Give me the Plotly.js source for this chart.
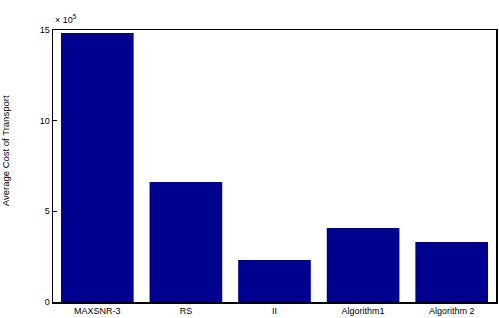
<!DOCTYPE html>
<html>
<head>
<meta charset="utf-8">
<script src="https://cdn.plot.ly/plotly-3.0.1.min.js"></script>
<style>html,body{margin:0;padding:0;background:#fff;}#chart{width:499px;height:318px;}</style>
</head>
<body>
<div id="chart"></div>
<script>
var categories = ["MAXSNR-3", "RS", "II", "Algorithm1", "Algorithm 2"];
var values = [14.83, 6.62, 2.32, 4.08, 3.31];
var yTicks = [0, 5, 10, 15];
var yTickLabels = ["0", "5", "10", "15"];
var yTitle = "Average Cost of Transport";

var trace = {
  type: "bar",
  x: categories,
  y: values,
  width: 0.82,
  marker: {color: "rgb(0,0,143)", line: {width: 0}},
  hoverinfo: "none"
};

var layout = {
  width: 499, height: 318,
  margin: {l: 53, r: 3, t: 30, b: 16, pad: 0},
  paper_bgcolor: "#fff", plot_bgcolor: "#fff",
  font: {family: "Liberation Sans, Arial, sans-serif", size: 9, color: "#000"},
  showlegend: false,
  xaxis: {
    type: "category", range: [-0.5, 4.5],
    showline: true, linecolor: "#000", linewidth: 1.5, mirror: true,
    ticks: "", showgrid: false, zeroline: false,
    tickfont: {size: 9}
  },
  yaxis: {
    range: [0, 15], tickvals: yTicks, ticktext: yTickLabels,
    showline: true, linecolor: "#000", linewidth: 1.5, mirror: true,
    ticks: "inside", ticklen: 4, tickcolor: "#000",
    showgrid: false, zeroline: false,
    tickfont: {size: 9}
  },
  annotations: [{
    xref: "paper", yref: "paper", x: 0, y: 1.0, xanchor: "left", yanchor: "bottom",
    yshift: 3, text: "× 10<sup>5</sup>", showarrow: false, font: {size: 9}
  }, {
    xref: "paper", yref: "paper", x: -0.108, y: 0.555, xanchor: "center", yanchor: "middle",
    textangle: -90, text: yTitle, showarrow: false, font: {size: 9.5}
  }]
};

Plotly.newPlot("chart", [trace], layout, {displayModeBar: false, staticPlot: true});
</script>
</body>
</html>
